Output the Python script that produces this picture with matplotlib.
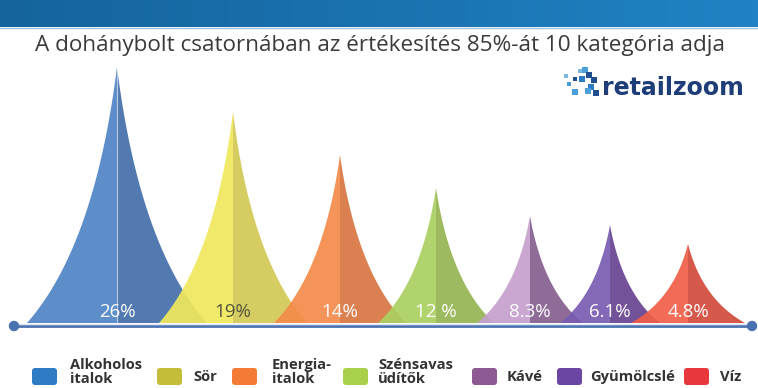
import numpy as np
import matplotlib
matplotlib.use("Agg")
import matplotlib.pyplot as plt
from matplotlib.patches import Polygon, FancyBboxPatch, Circle

# data
categories = ["Alkoholos\nitalok", "Sör", "Energia-\nitalok", "Szénsavas\nüdítők",
              "Kávé", "Gyümölcslé", "Víz"]
share_labels = ["26%", "19%", "14%", "12 %", "8.3%", "6.1%", "4.8%"]
peak_height = [256, 211, 168, 135, 107, 98, 79]

# layout (pixel coords, y down)
centers = [117, 233, 340, 436, 530, 610, 688]
half_w = [90, 74, 66, 58, 53, 50, 57]
base_y = 323
left_cols = ["#4f84c6", "#f0e85c", "#f48b4a", "#abd062", "#c6a0cd", "#7a5cb2", "#f15e48"]
right_cols = ["#436fab", "#d3c955", "#d87642", "#95b452", "#86608e", "#684392", "#d24b3a"]
label_cols = ["white", "#55553c", "white", "white", "white", "white", "white"]
legend_cols = ["#2f7bc4", "#c3bd3a", "#f47a35", "#a9d04a", "#8e5a93", "#6b47a3", "#e8383d"]
legend_box_x = [32, 157, 232, 343, 472, 557, 684]
legend_txt_x = [70, 193, 272, 378, 507, 590, 720]


def spike_half(cx, w, h, side):
    # concave side drawn as a quadratic bezier from the base corner to the tip
    t = np.linspace(0, 1, 80)
    c, d = 0.25, 0.3
    r = (1 - t) ** 2 + 2 * c * t * (1 - t)
    f = 2 * d * t * (1 - t) + t ** 2
    pts = np.column_stack([cx + side * w * r, base_y - h * f])
    return np.vstack([pts, [cx, base_y]])


fig = plt.figure(figsize=(7.58, 3.88), dpi=100)
ax = fig.add_axes([0, 0, 1, 1])
ax.set_xlim(0, 758)
ax.set_ylim(388, 0)
ax.axis("off")

# top banner
grad = np.linspace(0, 1, 256).reshape(1, -1)
banner_cmap = matplotlib.colors.LinearSegmentedColormap.from_list(
    "banner", ["#15659c", "#1a72b0", "#2183c4"])
ax.imshow(grad, cmap=banner_cmap, extent=[0, 758, 27, 0], aspect="auto", zorder=0)
ax.plot([0, 758], [27.5, 27.5], color="#9cc4e2", lw=1, zorder=1)

ax.text(380, 46, "A dohánybolt csatornában az értékesítés 85%-át 10 kategória adja",
        ha="center", va="center", fontsize=16.2, color="#3a3a3a", family="Open Sans")

# logo
ax.text(602, 88, "retailzoom", ha="left", va="center", fontsize=17,
        fontweight="bold", color="#1d3c78", family="DejaVu Sans")
dots_x = [566, 569, 575, 580, 585, 575, 582, 589, 594, 591, 596, 588]
dots_y = [76, 84, 92, 71, 70, 79, 79, 75, 80, 87, 93, 91]
dots_c = ["#7ab8e0", "#4a9fd8", "#4a9fd8", "#7ab8e0", "#4a9fd8", "#1f4f8f",
          "#2a7cc4", "#1f4f8f", "#1f4f8f", "#2a7cc4", "#1f4f8f", "#4a9fd8"]
dots_s = [9, 12, 14, 10, 14, 12, 16, 22, 20, 18, 20, 14]
ax.scatter(dots_x, dots_y, s=dots_s, c=dots_c, marker="s", linewidths=0, zorder=3)

# spikes
for i in range(len(categories)):
    cx, w, h = centers[i], half_w[i], peak_height[i]
    ax.add_patch(Polygon(spike_half(cx, w, h, -1), closed=True, facecolor=left_cols[i],
                         edgecolor="none", alpha=0.92, zorder=2 + i * 0.1))
    ax.add_patch(Polygon(spike_half(cx, w, h, 1), closed=True, facecolor=right_cols[i],
                         edgecolor="none", alpha=0.92, zorder=2 + i * 0.1))
    if i == 0:
        ax.plot([cx, cx], [base_y, base_y - h], color="white", lw=0.8, alpha=0.6, zorder=2.05)
    ax.text(cx, 317, share_labels[i], ha="center", va="baseline", fontsize=13.5,
            color=label_cols[i], family="Open Sans", zorder=4)

# baseline with end dots
ax.plot([14, 752], [326, 326], color="#4a72b0", lw=2, zorder=5)
ax.plot([14, 752], [324, 324], color="#dfe6f2", lw=1, zorder=5)
for xe in (14, 752):
    ax.add_patch(Circle((xe, 326), 4.5, color="#4a72b0", zorder=6))

# legend
for i, name in enumerate(categories):
    ax.add_patch(FancyBboxPatch((legend_box_x[i], 368), 25, 17,
                                boxstyle="round,pad=0,rounding_size=3",
                                facecolor=legend_cols[i], edgecolor="none", zorder=3))
    lines = name.split("\n")
    if len(lines) == 2:
        ax.text(legend_txt_x[i], 369, lines[0], ha="left", va="baseline", fontsize=10.6,
                fontweight="bold", color="#333333", family="Open Sans")
        ax.text(legend_txt_x[i], 383, lines[1], ha="left", va="baseline", fontsize=10.6,
                fontweight="bold", color="#333333", family="Open Sans")
    else:
        ax.text(legend_txt_x[i], 381, lines[0], ha="left", va="baseline", fontsize=10.6,
                fontweight="bold", color="#333333", family="Open Sans")

fig.savefig("out.png", dpi=100)
